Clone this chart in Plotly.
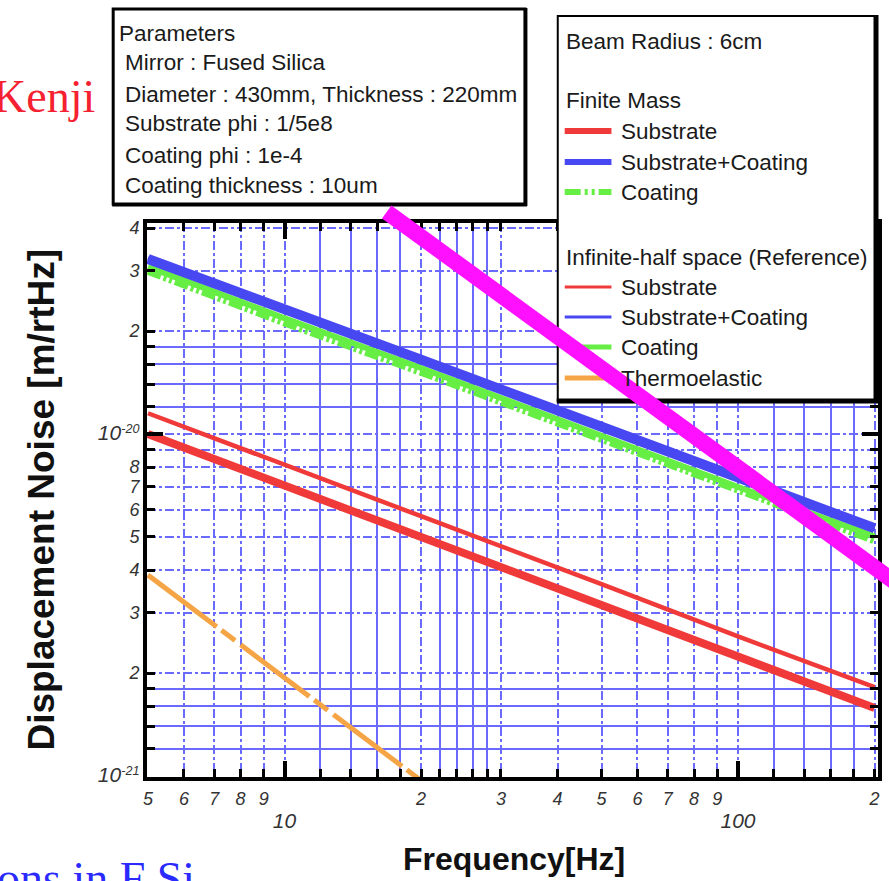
import math
import plotly.graph_objects as go

# ---------------- data ----------------
freq = [5, 10, 20, 50, 100, 200]
finite_substrate = [1.0e-20, 7.07e-21, 5.0e-21, 3.16e-21, 2.25e-21, 1.58e-21]
finite_sub_coat = [3.25e-20, 2.3e-20, 1.65e-20, 1.05e-20, 7.4e-21, 5.3e-21]
finite_coating = [3.0e-20, 2.12e-20, 1.52e-20, 9.7e-21, 6.83e-21, 4.89e-21]
inf_substrate = [1.15e-20, 8.1e-21, 5.75e-21, 3.64e-21, 2.56e-21, 1.82e-21]
inf_sub_coat = [3.27e-20, 2.32e-20, 1.66e-20, 1.05e-20, 7.4e-21, 5.25e-21]
inf_coating = [3.08e-20, 2.18e-20, 1.56e-20, 9.9e-21, 7.0e-21, 5.02e-21]
te_freq = [5, 10, 15, 20]
thermoelastic = [3.87e-21, 1.94e-21, 1.29e-21, 9.7e-22]
req_freq = [16.8, 223]
req_noise = [4.46e-20, 3.67e-21]

x_tickvals = [5, 6, 7, 8, 9, 10, 20, 30, 40, 50, 60, 70, 80, 90, 100, 200]
x_ticktext = ["5", "6", "7", "8", "9", "<br><span style='font-size:21px'>10</span>",
              "2", "3", "4", "5", "6", "7", "8", "9",
              "<br><span style='font-size:21px'>100</span>", "2"]
x_minor = [12, 14, 16, 18, 22, 24, 26, 28, 120, 140, 160, 180]
y_tickvals = [1e-21, 2e-21, 3e-21, 4e-21, 5e-21, 6e-21, 7e-21, 8e-21, 9e-21,
              1e-20, 2e-20, 3e-20, 4e-20]
y_ticktext = ["<span style='font-size:21px'>10</span><sup>-21</sup>", "2", "3", "4", "5", "6", "7", "8", " ",
              "<span style='font-size:21px'>10</span><sup>-20</sup>", "2", "3", "4"]
y_minor = [1.2e-21, 1.4e-21, 1.6e-21, 1.8e-21, 1.2e-20, 1.4e-20, 1.6e-20, 1.8e-20]

box1_lines = ["Parameters", "Mirror : Fused Silica", "Diameter : 430mm, Thickness : 220mm",
              "Substrate phi : 1/5e8", "Coating phi : 1e-4", "Coating thickness : 10um"]

# ---------------- geometry ----------------
W, H = 889, 881
PL, PR, PT, PB = 147, 882, 223, 777
x_range = [0.69678, 2.30862]
y_range = [-21.0029, -19.383]


def px(x):
    return (x - PL) / (PR - PL)


def py(y):
    return (PB - y) / (PB - PT)


def fx(f):
    return (math.log10(f) - x_range[0]) / (x_range[1] - x_range[0])


def fy(v):
    return (math.log10(v) - y_range[0]) / (y_range[1] - y_range[0])


RED = "#f03a3a"
BLUE = "#4848f2"
GREEN = "#66ee44"
ORANGE = "#f5a545"
MAGENTA = "#ff10ff"
GRID = "#6a6aff"

fig = go.Figure()


def add(x, y, color, width, dash="solid"):
    fig.add_trace(go.Scatter(x=x, y=y, mode="lines", line=dict(color=color, width=width, dash=dash),
                             showlegend=False, hoverinfo="skip"))


add(freq, inf_coating, GREEN, 6)
add(freq, finite_coating, GREEN, 8, "14px,3px,3px,3px,3px,3px")
add(freq, inf_sub_coat, BLUE, 4)
add(freq, finite_sub_coat, BLUE, 10)
add(freq, inf_substrate, RED, 4.5)
add(freq, finite_substrate, RED, 8)
add(te_freq, thermoelastic, ORANGE, 5, "86px,6px,17px,7px")

# invisible trace for overlay axes (long decade ticks)
fig.add_trace(go.Scatter(x=[10], y=[1e-20], xaxis="x2", yaxis="y2", mode="markers",
                         marker=dict(opacity=0), showlegend=False, hoverinfo="skip"))

tickfont = dict(family="Liberation Sans", size=18, color="#333333", style="italic")

fig.update_layout(
    width=W, height=H,
    margin=dict(l=PL, r=W - PR, t=PT, b=H - PB),
    paper_bgcolor="white", plot_bgcolor="white",
    showlegend=False,
    xaxis=dict(type="log", range=x_range, showline=True, linewidth=4, linecolor="black",
               mirror="ticks", ticks="inside", ticklen=8, tickwidth=3, tickcolor="black",
               tickmode="array", tickvals=x_tickvals, ticktext=x_ticktext, tickfont=tickfont,
               tickangle=0, ticklabelstandoff=2,
               showgrid=True, gridcolor=GRID, gridwidth=1.5, griddash="dashdot", zeroline=False,
               minor=dict(tickmode="array", tickvals=x_minor, ticks="inside", ticklen=8, tickwidth=3,
                          tickcolor="black", showgrid=True, gridcolor=GRID, gridwidth=1.5,
                          griddash="solid")),
    yaxis=dict(type="log", range=y_range, showline=True, linewidth=4, linecolor="black",
               mirror="ticks", ticks="inside", ticklen=8, tickwidth=3, tickcolor="black",
               tickmode="array", tickvals=y_tickvals, ticktext=y_ticktext, tickfont=tickfont,
               tickangle=0,
               showgrid=True, gridcolor=GRID, gridwidth=1.5, griddash="dashdot", zeroline=False,
               minor=dict(tickmode="array", tickvals=y_minor, ticks="inside", ticklen=8, tickwidth=3,
                          tickcolor="black", showgrid=True, gridcolor=GRID, gridwidth=1.5,
                          griddash="solid")),
    xaxis2=dict(type="log", range=x_range, overlaying="x", anchor="y2", side="bottom",
                showline=True, linewidth=4, linecolor="black", mirror="ticks",
                ticks="inside", ticklen=16, tickwidth=4, tickcolor="black",
                tickmode="array", tickvals=[10, 100], showticklabels=False, showgrid=False, zeroline=False),
    yaxis2=dict(type="log", range=y_range, overlaying="y", anchor="x2", side="left",
                showline=True, linewidth=4, linecolor="black", mirror="ticks",
                ticks="inside", ticklen=16, tickwidth=4, tickcolor="black",
                tickmode="array", tickvals=[1e-21, 1e-20], showticklabels=False, showgrid=False, zeroline=False),
)

shapes = []
annots = []

# ---------------- box 1 (parameters) ----------------
shapes.append(dict(type="rect", xref="paper", yref="paper", x0=px(113), x1=px(527), y0=py(9), y1=py(204),
                   line=dict(color="black", width=3), fillcolor="white", layer="above"))
shapes.append(dict(type="line", xref="paper", yref="paper", x0=px(528), x1=px(528), y0=py(8), y1=py(206),
                   line=dict(color="black", width=3), layer="above"))
shapes.append(dict(type="line", xref="paper", yref="paper", x0=px(112), x1=px(529), y0=py(205), y1=py(205),
                   line=dict(color="black", width=3), layer="above"))
rows1 = [33, 63, 94, 124, 155, 186]
for i, (t, yy) in enumerate(zip(box1_lines, rows1)):
    annots.append(dict(text=t, xref="paper", yref="paper", x=px(117 if i == 0 else 123), y=py(yy),
                       xanchor="left", yanchor="middle", showarrow=False,
                       font=dict(family="Liberation Sans", size=22.5, color="#1a1a1a")))

# ---------------- box 2 (legend) ----------------
shapes.append(dict(type="rect", xref="paper", yref="paper", x0=px(560), x1=px(880), y0=py(16), y1=py(401),
                   line=dict(color="black", width=2), fillcolor="white", layer="above"))
shapes.append(dict(type="line", xref="paper", yref="paper", x0=px(880), x1=px(880), y0=py(15), y1=py(403),
                   line=dict(color="black", width=5), layer="above"))
shapes.append(dict(type="line", xref="paper", yref="paper", x0=px(559), x1=px(882), y0=py(401), y1=py(401),
                   line=dict(color="black", width=5), layer="above"))

headers = [("Beam Radius : 6cm", 41), ("Finite Mass", 101), ("Infinite-half space (Reference)", 257)]
for t, yy in headers:
    annots.append(dict(text=t, xref="paper", yref="paper", x=px(566), y=py(yy), xanchor="left",
                       yanchor="middle", showarrow=False,
                       font=dict(family="Liberation Sans", size=22.5, color="#1a1a1a")))

items = [("Substrate", 131, RED, 6, "solid"),
         ("Substrate+Coating", 162, BLUE, 6, "solid"),
         ("Coating", 192, GREEN, 6, "16px,4px,3px,4px,3px,4px"),
         ("Substrate", 287, RED, 3, "solid"),
         ("Substrate+Coating", 317, BLUE, 3, "solid"),
         ("Coating", 347, GREEN, 5, "solid"),
         ("Thermoelastic", 378, ORANGE, 5, "solid")]
for t, yy, c, w, d in items:
    shapes.append(dict(type="line", xref="paper", yref="paper", x0=px(567), x1=px(614), y0=py(yy), y1=py(yy),
                       line=dict(color=c, width=w, dash=d), layer="above"))
    annots.append(dict(text=t, xref="paper", yref="paper", x=px(622), y=py(yy), xanchor="left",
                       yanchor="middle", showarrow=False,
                       font=dict(family="Liberation Sans", size=22.5, color="#1a1a1a")))

# ---------------- magenta requirement line ----------------
shapes.append(dict(type="line", xref="paper", yref="paper",
                   x0=fx(req_freq[0]), x1=fx(req_freq[1]), y0=fy(req_noise[0]), y1=fy(req_noise[1]),
                   line=dict(color=MAGENTA, width=16), layer="above"))

# ---------------- titles and slide fragments ----------------
annots.append(dict(text="<b>Frequency[Hz]</b>", xref="paper", yref="paper", x=px(516), y=py(859),
                   xanchor="center", yanchor="middle", showarrow=False,
                   font=dict(family="Liberation Sans", size=32, color="#111111")))
annots.append(dict(text="<b>Displacement Noise [m/rtHz]</b>", xref="paper", yref="paper", x=px(40), y=py(500),
                   xanchor="center", yanchor="middle", textangle=-90, showarrow=False,
                   font=dict(family="Liberation Sans", size=37, color="#111111")))
annots.append(dict(text="Kenji", xref="paper", yref="paper", x=px(-10), y=py(96),
                   xanchor="left", yanchor="middle", showarrow=False,
                   font=dict(family="Liberation Serif", size=46, color="#f52030")))
annots.append(dict(text="ons in F Si", xref="paper", yref="paper", x=px(-6), y=py(878),
                   xanchor="left", yanchor="middle", showarrow=False,
                   font=dict(family="Liberation Serif", size=46, color="#2a2aff")))

fig.update_layout(shapes=shapes, annotations=annots)
fig.write_html("out.html")
